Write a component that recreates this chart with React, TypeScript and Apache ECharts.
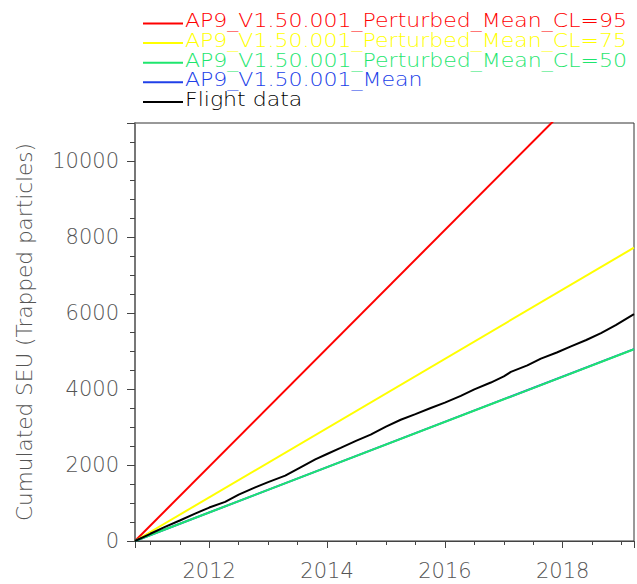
import React, { useEffect, useRef } from 'react';
import * as echarts from 'echarts';

const seriesNames = [
  'AP9_V1.50.001_Perturbed_Mean_CL=95',
  'AP9_V1.50.001_Perturbed_Mean_CL=75',
  'AP9_V1.50.001_Perturbed_Mean_CL=50',
  'AP9_V1.50.001_Mean',
  'Flight data',
];
const seriesColors = ['#ff0000', '#ffff00', '#1ee66e', '#2040e8', '#000000'];

const modelYears = [2010.74, 2019.21];
const cl95 = [0, 13180];
const cl75 = [0, 7720];
const cl50 = [0, 5045];
const meanModel = [0, 5050];

const flightYears = [
  2010.74, 2011.0, 2011.25, 2011.5, 2011.76, 2012.0, 2012.27, 2012.5, 2012.78, 2013.0,
  2013.29, 2013.55, 2013.8, 2014.0, 2014.23, 2014.5, 2014.74, 2015.0, 2015.25, 2015.5,
  2015.76, 2016.0, 2016.27, 2016.5, 2016.78, 2017.0, 2017.12, 2017.4, 2017.63, 2017.9,
  2018.14, 2018.4, 2018.65, 2018.9, 2019.21,
];
const flightSEU = [
  0, 190, 370, 540, 720, 880, 1030, 1220, 1410, 1550,
  1720, 1940, 2150, 2290, 2450, 2640, 2800, 3010, 3190, 3340,
  3500, 3640, 3820, 3990, 4170, 4330, 4450, 4620, 4800, 4960,
  5120, 5290, 5470, 5680, 5970,
];

const xTickLabels = [2012, 2014, 2016, 2018];
const yTickLabels = [0, 2000, 4000, 6000, 8000, 10000];

const X_MIN = 2010.74;
const X_MAX = 2019.21;
const Y_MIN = 0;
const Y_MAX = 11000;
const Y_MAJOR = 2000;
const Y_MINOR = 500;

const FONT = 'DejaVu Sans';

export default function App() {
  const ref = useRef<HTMLDivElement>(null);

  useEffect(() => {
    if (!ref.current) return;
    const chart = echarts.init(ref.current, undefined, { renderer: 'svg' });

    const gridLeft = 135;
    const gridTop = 123;
    const gridWidth = 499;
    const gridHeight = 418;

    const modelData = [cl95, cl75, cl50, meanModel];
    const lineSeries: any[] = [];
    const order = [0, 1, 3, 2];
    order.forEach((i) => {
      lineSeries.push({
        name: seriesNames[i],
        type: 'line',
        data: modelYears.map((x, k) => [x, modelData[i][k]]),
        showSymbol: false,
        symbol: 'none',
        lineStyle: { color: seriesColors[i], width: 2 },
        itemStyle: { color: seriesColors[i] },
        clip: true,
      });
    });
    lineSeries.push({
      name: seriesNames[4],
      type: 'line',
      data: flightYears.map((x, k) => [x, flightSEU[k]]),
      showSymbol: false,
      symbol: 'none',
      lineStyle: { color: seriesColors[4], width: 2 },
      itemStyle: { color: seriesColors[4] },
      clip: true,
    });

    const legendGraphics: any[] = [];
    seriesNames.forEach((name, i) => {
      const rowY = 21 + i * 19.6;
      legendGraphics.push({
        type: 'line',
        shape: { x1: 143, y1: rowY + 2.5, x2: 183, y2: rowY + 2.5 },
        style: { stroke: seriesColors[i], lineWidth: 2 },
      });
      legendGraphics.push({
        type: 'text',
        x: 185,
        y: rowY,
        scaleX: 1.16,
        style: {
          text: name,
          fill: seriesColors[i],
          fontSize: 19,
          lineHeight: 19,
          fontFamily: FONT,
          fontWeight: 200,
          verticalAlign: 'middle',
        },
      });
    });

    const labelStyle = { color: '#555', fontSize: 21, fontFamily: FONT, fontWeight: 200 };
    const plain = (v: number) => String(Math.round(v));

    chart.setOption({
      animation: false,
      backgroundColor: '#ffffff',
      grid: {
        left: gridLeft,
        top: gridTop,
        width: gridWidth,
        height: gridHeight,
        show: true,
        borderColor: '#333',
        borderWidth: 1,
        backgroundColor: 'transparent',
      },
      xAxis: [
        {
          type: 'value',
          min: X_MIN,
          max: X_MAX,
          splitNumber: 4,
          position: 'bottom',
          axisLine: { show: true, onZero: false, lineStyle: { color: '#444', width: 1 } },
          axisTick: { show: true, length: 7, lineStyle: { color: '#444', width: 1 } },
          axisLabel: { customValues: xTickLabels, formatter: plain, margin: 19, ...labelStyle },
          splitLine: { show: false },
        },
        {
          type: 'value',
          min: X_MIN,
          max: X_MAX,
          splitNumber: 17,
          position: 'top',
          offset: -gridHeight,
          axisLine: { show: false, onZero: false },
          axisTick: { show: true, inside: true, length: 4, lineStyle: { color: '#444', width: 1 } },
          axisLabel: { show: false },
          splitLine: { show: false },
        },
      ],
      yAxis: [
        {
          type: 'value',
          min: Y_MIN,
          max: Y_MAX,
          interval: Y_MAJOR,
          position: 'left',
          name: 'Cumulated SEU (Trapped particles)',
          nameLocation: 'middle',
          nameGap: 100,
          nameTextStyle: { color: '#555', fontSize: 21.6, fontFamily: FONT, fontWeight: 200 },
          axisLine: { show: true, onZero: false, lineStyle: { color: '#777', width: 2 } },
          axisTick: { show: true, length: 8, lineStyle: { color: '#444', width: 1 } },
          axisLabel: { customValues: yTickLabels, formatter: plain, margin: 16, ...labelStyle },
          splitLine: { show: false },
        },
        {
          type: 'value',
          min: Y_MIN,
          max: Y_MAX,
          interval: Y_MINOR,
          position: 'right',
          offset: -gridWidth,
          axisLine: { show: false, onZero: false },
          axisTick: { show: true, inside: true, length: 5, lineStyle: { color: '#444', width: 1 } },
          axisLabel: { show: false },
          splitLine: { show: false },
        },
      ],
      graphic: legendGraphics,
      series: lineSeries,
    });

    return () => {
      chart.dispose();
    };
  }, []);

  return (
    <div
      ref={ref}
      style={{ position: 'absolute', left: 0, top: 0, width: 637, height: 584, background: '#fff' }}
    />
  );
}
